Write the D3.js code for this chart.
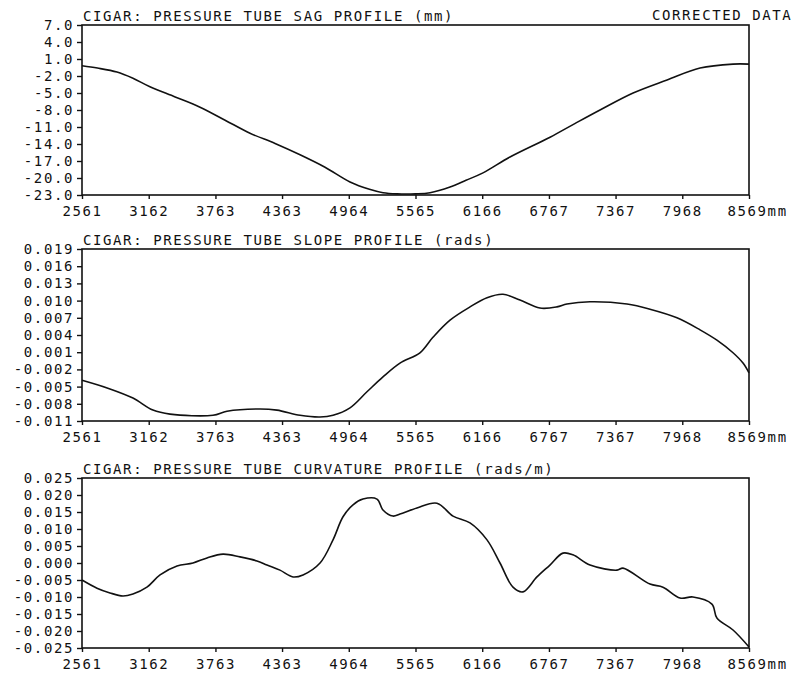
<!DOCTYPE html>
<html>
<head>
<meta charset="utf-8">
<script src="https://cdn.jsdelivr.net/npm/d3@7"></script>
<style>
  body { margin: 0; background: #fff; }
  svg text { font-family: "DejaVu Sans Mono", "Liberation Mono", monospace; font-size: 14px; letter-spacing: 1.6px; fill: #111; }
</style>
</head>
<body>
<div id="chart"></div>
<script>
// x axis positions along the tube (mm)
var xTicks = [2561, 3162, 3763, 4363, 4964, 5565, 6166, 6767, 7367, 7968, 8569];

// sag profile (mm)
var sagX = [2561, 2700, 2876, 3020, 3173, 3400, 3624, 3850, 4074, 4300, 4525, 4750, 4975, 5150, 5273, 5400, 5565, 5696, 5876, 6020, 6173, 6416, 6777, 7000, 7227, 7525, 7831, 8128, 8425, 8569];
var sag  = [-0.2, -0.6, -1.3, -2.4, -3.9, -5.7, -7.5, -9.8, -12.1, -13.9, -15.9, -18.1, -20.7, -22.0, -22.6, -22.8, -22.8, -22.6, -21.6, -20.4, -19.1, -16.3, -12.8, -10.4, -8.0, -5.0, -2.7, -0.6, 0.1, 0.1];
var sagTicks = [7, 4, 1, -2, -5, -8, -11, -14, -17, -20, -23];

// slope profile (rads)
var slopeX = [2561, 2813, 3020, 3200, 3354, 3741, 3867, 4164, 4317, 4525, 4705, 4822, 4975, 5128, 5272, 5425, 5605, 5722, 5876, 6056, 6209, 6353, 6506, 6686, 6839, 6929, 7137, 7470, 7677, 7920, 8128, 8280, 8425, 8515, 8569];
var slope  = [-0.0039, -0.0054, -0.0070, -0.0091, -0.0098, -0.0100, -0.0093, -0.0089, -0.0091, -0.0100, -0.0103, -0.0100, -0.0087, -0.0059, -0.0033, -0.0009, 0.0009, 0.0036, 0.0066, 0.0089, 0.0105, 0.0111, 0.0101, 0.0087, 0.0089, 0.0094, 0.0098, 0.0094, 0.0085, 0.0070, 0.0049, 0.0031, 0.0009, -0.0009, -0.0026];
var slopeTicks = [0.019, 0.016, 0.013, 0.010, 0.007, 0.004, 0.001, -0.002, -0.005, -0.008, -0.011];

// curvature profile (rads/m)
var curvX = [2561, 2696, 2813, 2930, 3020, 3146, 3264, 3417, 3561, 3687, 3831, 3984, 4137, 4227, 4344, 4462, 4552, 4705, 4822, 4912, 5002, 5092, 5218, 5272, 5362, 5425, 5578, 5758, 5903, 6056, 6209, 6326, 6443, 6533, 6659, 6776, 6893, 6983, 7137, 7380, 7434, 7677, 7794, 7948, 8064, 8235, 8280, 8425, 8569];
var curv  = [-0.0050, -0.0074, -0.0088, -0.0097, -0.0091, -0.0071, -0.0035, -0.0009, 0.0000, 0.0015, 0.0026, 0.0018, 0.0006, -0.0006, -0.0021, -0.0041, -0.0035, 0.0000, 0.0068, 0.0136, 0.0171, 0.0188, 0.0188, 0.0156, 0.0138, 0.0144, 0.0162, 0.0176, 0.0138, 0.0118, 0.0068, 0.0000, -0.0071, -0.0085, -0.0041, -0.0006, 0.0029, 0.0024, -0.0006, -0.0021, -0.0015, -0.0062, -0.0071, -0.0103, -0.0100, -0.0121, -0.0162, -0.0197, -0.0247];
var curvTicks = [0.025, 0.020, 0.015, 0.010, 0.005, 0.000, -0.005, -0.010, -0.015, -0.020, -0.025];

var width = 808, height = 683;
var left = 82, right = 749;

var svg = d3.select("#chart").append("svg")
    .attr("width", width)
    .attr("height", height);

var x = d3.scaleLinear().domain([2561, 8569]).range([left, right]);

var panels = [
    {title: "CIGAR: PRESSURE TUBE SAG PROFILE (mm)", xs: sagX, ys: sag, ticks: sagTicks, fmt: d3.format(".1f"), top: 25, bottom: 195},
    {title: "CIGAR: PRESSURE TUBE SLOPE PROFILE (rads)", xs: slopeX, ys: slope, ticks: slopeTicks, fmt: d3.format(".3f"), top: 249, bottom: 421},
    {title: "CIGAR: PRESSURE TUBE CURVATURE PROFILE (rads/m)", xs: curvX, ys: curv, ticks: curvTicks, fmt: d3.format(".3f"), top: 478, bottom: 648}
];

panels.forEach(function(p, k) {
    var y = d3.scaleLinear()
        .domain([p.ticks[p.ticks.length - 1], p.ticks[0]])
        .range([p.bottom, p.top]);

    var g = svg.append("g");

    // y axis
    var ya = g.append("g")
        .attr("transform", "translate(" + left + ",0)")
        .call(d3.axisLeft(y).tickValues(p.ticks).tickFormat(function(d) {
            return p.fmt(d).replace("\u2212", "-");
        }).tickSize(5).tickSizeOuter(0).tickPadding(3));
    ya.select(".domain").remove();
    ya.selectAll("line").attr("stroke", "#111").attr("stroke-width", 1.4);
    ya.selectAll("text").attr("font-family", null).attr("font-size", null);

    // x axis
    var xa = g.append("g")
        .attr("transform", "translate(0," + p.bottom + ")")
        .call(d3.axisBottom(x).tickValues(xTicks).tickFormat(function(d, i) {
            return i == xTicks.length - 1 ? d + "mm" : d;
        }).tickSize(4).tickSizeOuter(0).tickPadding(7));
    xa.select(".domain").remove();
    xa.selectAll("line").attr("stroke", "#111").attr("stroke-width", 1.4);
    xa.selectAll("text").attr("font-family", null).attr("font-size", null);
    xa.selectAll("text").filter(function(d, i) { return i == xTicks.length - 1; })
        .attr("text-anchor", "start")
        .attr("dx", -22);

    // frame
    g.append("rect")
        .attr("x", left)
        .attr("y", p.top)
        .attr("width", right - left)
        .attr("height", p.bottom - p.top)
        .attr("fill", "none")
        .attr("stroke", "#111")
        .attr("stroke-width", 1.6);

    // title
    g.append("text")
        .attr("x", left + 1)
        .attr("y", p.top - 4)
        .text(p.title);

    // profile line
    var line = d3.line()
        .x(function(d, i) { return x(p.xs[i]); })
        .y(function(d) { return y(d); })
        .curve(d3.curveCatmullRom);

    g.append("path")
        .datum(p.ys)
        .attr("d", line)
        .attr("fill", "none")
        .attr("stroke", "#111")
        .attr("stroke-width", 1.6);
});

svg.append("text")
    .attr("x", 652)
    .attr("y", 20)
    .text("CORRECTED DATA");
</script>
</body>
</html>
